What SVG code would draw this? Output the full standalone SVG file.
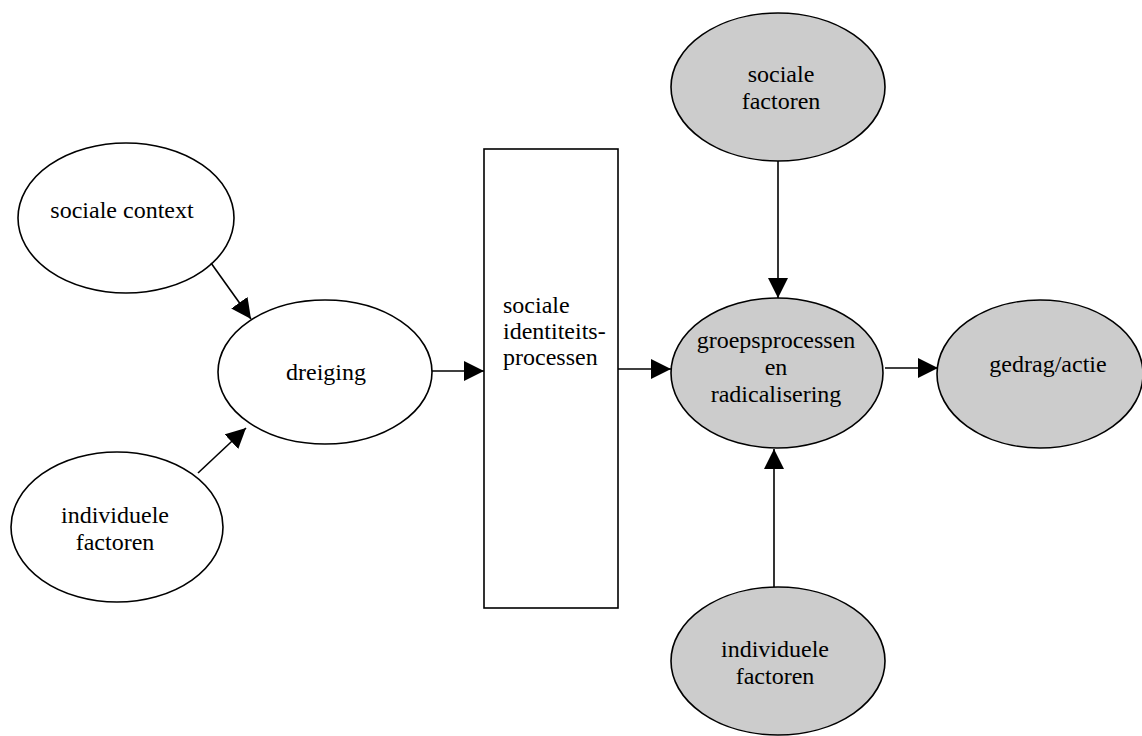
<svg xmlns="http://www.w3.org/2000/svg" width="1142" height="736" viewBox="0 0 1142 736">
<style>
.n{stroke:#000;stroke-width:1.6;fill:#fff}
.g{fill:#cccccc}
.t{font-family:"Liberation Serif","Times New Roman",serif;font-size:24px;fill:#000;text-anchor:middle}
.l{text-anchor:start}
.c line{stroke:#000;stroke-width:1.6;marker-end:url(#ah)}
</style>
<defs>
<marker id="ah" markerUnits="userSpaceOnUse" markerWidth="20" markerHeight="20" refX="20" refY="10" orient="auto" viewBox="0 0 20 20">
<path d="M0,0 L20,10 L0,20 z" fill="#000"/>
</marker>
</defs>
<rect width="1142" height="736" fill="#fff"/>
<g id="sociale-context">
<ellipse class="n" cx="126" cy="218" rx="108" ry="75"/>
<text class="t" x="122" y="218">sociale context</text>
</g>
<g id="dreiging">
<ellipse class="n" cx="325" cy="372" rx="107" ry="72"/>
<text class="t" x="326" y="380">dreiging</text>
</g>
<g id="individuele-factoren-links">
<ellipse class="n" cx="117" cy="527" rx="106" ry="75"/>
<text class="t" x="115" y="523">individuele</text>
<text class="t" x="115" y="550">factoren</text>
</g>
<g id="sociale-identiteitsprocessen">
<rect class="n" x="484" y="149" width="134" height="459"/>
<text class="t l" x="503" y="313">sociale</text>
<text class="t l" x="503" y="339">identiteits-</text>
<text class="t l" x="503" y="365">processen</text>
</g>
<g id="sociale-factoren">
<ellipse class="n g" cx="778" cy="87" rx="107" ry="74"/>
<text class="t" x="781" y="82">sociale</text>
<text class="t" x="781" y="109">factoren</text>
</g>
<g id="groepsprocessen">
<ellipse class="n g" cx="777" cy="373" rx="106" ry="75"/>
<text class="t" x="776" y="348">groepsprocessen</text>
<text class="t" x="776" y="375">en</text>
<text class="t" x="776" y="402">radicalisering</text>
</g>
<g id="gedrag-actie">
<ellipse class="n g" cx="1040" cy="374" rx="103" ry="74"/>
<text class="t" x="1048" y="372">gedrag/actie</text>
</g>
<g id="individuele-factoren-onder">
<ellipse class="n g" cx="778" cy="661" rx="107" ry="74"/>
<text class="t" x="775" y="657">individuele</text>
<text class="t" x="775" y="684">factoren</text>
</g>
<g id="connectors" class="c">
<line x1="211" y1="263" x2="251" y2="319"/>
<line x1="198" y1="473" x2="246" y2="428"/>
<line x1="432" y1="371" x2="484" y2="371"/>
<line x1="618" y1="369" x2="671" y2="369"/>
<line x1="778" y1="161" x2="778" y2="298"/>
<line x1="774" y1="587" x2="774" y2="449"/>
<line x1="885" y1="368" x2="938" y2="368"/>
</g>
</svg>
